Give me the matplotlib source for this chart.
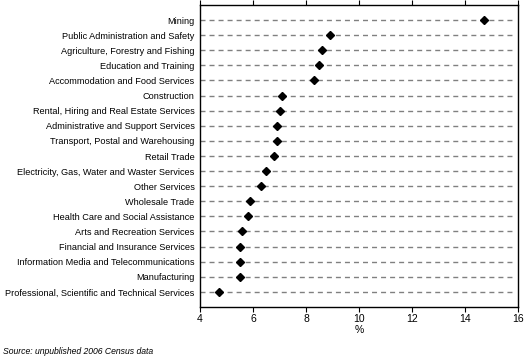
import matplotlib
matplotlib.use("Agg")
import matplotlib.pyplot as plt

categories = [
    "Mining",
    "Public Administration and Safety",
    "Agriculture, Forestry and Fishing",
    "Education and Training",
    "Accommodation and Food Services",
    "Construction",
    "Rental, Hiring and Real Estate Services",
    "Administrative and Support Services",
    "Transport, Postal and Warehousing",
    "Retail Trade",
    "Electricity, Gas, Water and Waster Services",
    "Other Services",
    "Wholesale Trade",
    "Health Care and Social Assistance",
    "Arts and Recreation Services",
    "Financial and Insurance Services",
    "Information Media and Telecommunications",
    "Manufacturing",
    "Professional, Scientific and Technical Services",
]
values = [14.7, 8.9, 8.6, 8.5, 8.3, 7.1, 7.0, 6.9, 6.9, 6.8, 6.5, 6.3, 5.9, 5.8, 5.6, 5.5, 5.5, 5.5, 4.7]
xticks = [4, 6, 8, 10, 12, 14, 16]

plt.rcParams['font.family'] = ['Liberation Sans', 'DejaVu Sans']

fig = plt.figure(figsize=(5.29, 3.63), dpi=100)
ax = fig.add_axes([200/529, 1-307/363, 318/529, 302/363])

n = len(categories)
ypos = [n - 1 - i for i in range(n)]

for y in ypos:
    ax.axhline(y, xmax=0.98, color="#808080", lw=1.0, dashes=(3.6, 2.9), zorder=1)

ax.plot(values, ypos, linestyle="none", marker="D", ms=3.6, color="black", zorder=3)

ax.set_xlim(4, 16)
ax.set_ylim(-1, n)
ax.set_xticks(xticks)
ax.set_xticklabels([str(t) for t in xticks], fontsize=7.5)
ax.set_yticks(ypos)
ax.set_yticklabels(categories, fontsize=6.6)
ax.tick_params(axis="y", length=0, pad=4)
ax.tick_params(axis="x", which="both", top=True, bottom=True, direction="out", length=3.5, width=0.8, pad=1.5)
for s in ax.spines.values():
    s.set_linewidth(1.0)
    s.set_color("black")
ax.set_xlabel("%", fontsize=7.5, labelpad=1)

fig.text(3/529, 1-352/363, "Source: unpublished 2006 Census data", fontsize=6.2, style="italic", va="center", ha="left")

fig.savefig("out.png", dpi=100)
